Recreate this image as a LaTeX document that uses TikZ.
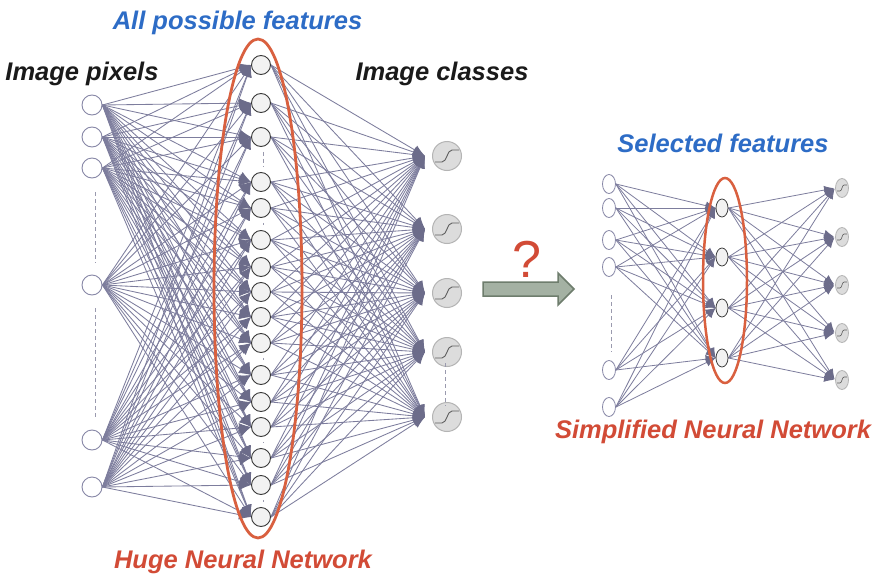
\documentclass[tikz,border=0pt]{standalone}
\usepackage{fontspec}
\setmainfont{Liberation Sans}
\usetikzlibrary{arrows.meta,calc,shapes.geometric}
\pgfdeclarelayer{back}
\pgfdeclarelayer{bg}
\pgfsetlayers{back,bg,main}
\definecolor{edgec}{HTML}{7D7D9D}
\definecolor{arrc}{HTML}{6C6C8A}
\definecolor{inc}{HTML}{8787A6}
\definecolor{hidfill}{HTML}{F2F2F2}
\definecolor{hidc}{HTML}{3A3A3A}
\definecolor{outfill}{HTML}{DCDCDC}
\definecolor{outc}{HTML}{B4B4B4}
\definecolor{sigc}{HTML}{5E5E5E}
\definecolor{redc}{HTML}{D9603F}
\definecolor{redt}{HTML}{D24B36}
\definecolor{bluet}{HTML}{2D6CC6}
\definecolor{blackt}{HTML}{1A1A1A}
\definecolor{dashc}{HTML}{9A9AAE}
\definecolor{barfill}{HTML}{A4B1A3}
\definecolor{barc}{HTML}{6E7D6D}
\tikzset{
  bin/.style={circle,draw=inc,fill=white,line width=0.9pt,minimum size=20pt,inner sep=0pt},
  bhid/.style={circle,draw=hidc,fill=hidfill,line width=0.9pt,minimum size=19pt,inner sep=0pt},
  bout/.style={circle,draw=outc,fill=outfill,line width=1pt,minimum size=29pt,inner sep=0pt},
  sin/.style={ellipse,draw=inc,fill=white,line width=0.8pt,minimum width=13pt,minimum height=19pt,inner sep=0pt},
  shid/.style={ellipse,draw=hidc,fill=hidfill,line width=0.8pt,minimum width=12pt,minimum height=18pt,inner sep=0pt},
  sout/.style={ellipse,draw=outc,fill=outfill,line width=0.8pt,minimum width=13pt,minimum height=19pt,inner sep=0pt},
  bedge/.style={draw=edgec,line width=0.85pt,-{Latex[length=12pt,width=10pt,color=arrc]}},
  sedge/.style={draw=edgec,line width=0.8pt,-{Latex[length=10pt,width=8.5pt,color=arrc]}},
  sig/.style={draw=sigc,line width=0.9pt},
  dsh/.style={draw=dashc,line width=0.8pt,dash pattern=on 4pt off 3pt},
  redell/.style={draw=redc,line width=2.8pt},
  lbl/.style={font=\fontsize{25.5}{30}\selectfont\bfseries\itshape,anchor=base,inner sep=0pt},
  barrow/.style={draw=barc,fill=barfill,line width=1.5pt,line join=miter}
}
\begin{document}
\begin{tikzpicture}[x=1pt,y=-1pt]
\begin{pgfonlayer}{back}
\fill[white] (0,0) rectangle (879,581);
\end{pgfonlayer}
\useasboundingbox (0,0) rectangle (879,581);

% ---------- big network ----------
\foreach \y [count=\i] in {105,137,168,285,440,487}
  \node[bin] (in\i) at (92,\y) {};
\foreach \y [count=\i] in {65,103,137,182,208,240,267,292,317,343,375,402,427,458,485,517}
  \node[bhid] (h\i) at (261,\y) {};
\foreach \y [count=\i] in {156,229,293,352,417} {
  \node[bout] (o\i) at (447,\y) {};
  \coordinate (ot\i) at (425,\y);
}

\begin{pgfonlayer}{bg}
\foreach \i in {1,...,6}
  \foreach \j in {1,...,16}
    \draw[bedge] (in\i.east) -- (h\j.west);
\foreach \i in {1,...,16}
  \foreach \j in {1,...,5}
    \draw[bedge] (h\i.east) -- (ot\j);
\end{pgfonlayer}

\foreach \j in {1,...,5}
  \draw[sig] ($(o\j.center)+(-12,6)$) -- ($(o\j.center)+(-5,6)$)
     .. controls ($(o\j.center)+(0,6)$) and ($(o\j.center)+(0,-6)$) ..
     ($(o\j.center)+(5,-6)$) -- ($(o\j.center)+(12,-6)$);

% dashed ellipsis marks
\draw[dsh] (95,192) -- (95,263);
\draw[dsh] (95,308) -- (95,417);
\foreach \a/\b in {3/4,5/6,10/11,13/14,15/16}
  \draw[dsh] ($(h\a.south)+(2,5)$) -- ($(h\b.north)+(2,-5)$);
\draw[dsh] ($(o4.south)+(-2,-4)$) -- ($(o5.north)+(-2,4)$);

\draw[redell] (258,288.5) ellipse [x radius=44pt, y radius=249.5pt];

% ---------- small network ----------
\foreach \y [count=\i] in {184,208,240,267,370,407}
  \node[sin] (si\i) at (609,\y) {};
\foreach \y [count=\i] in {208,257,308,358}
  \node[shid] (sh\i) at (722,\y) {};
\foreach \y [count=\i] in {188,237,285,333,380}
  \node[sout] (so\i) at (842,\y) {};

\begin{pgfonlayer}{bg}
\foreach \i in {1,...,6}
  \foreach \j in {1,...,4}
    \draw[sedge] (si\i.east) -- (sh\j.west);
\foreach \i in {1,...,4}
  \foreach \j in {1,...,5}
    \draw[sedge,shorten >=1pt] (sh\i.east) -- (so\j.west);
\end{pgfonlayer}

\foreach \j in {1,...,5}
  \draw[draw=sigc,line width=0.6pt] ($(so\j.center)+(-5,3)$) -- ($(so\j.center)+(-2,3)$)
     .. controls ($(so\j.center)+(0,3)$) and ($(so\j.center)+(0,-3)$) ..
     ($(so\j.center)+(2,-3)$) -- ($(so\j.center)+(5,-3)$);

\draw[dsh] (611,295) -- (611,352);
\draw[redell,line width=2.5pt] (725,280.5) ellipse [x radius=22pt, y radius=102.5pt];

% ---------- middle arrow ----------
\draw[barrow] (483,282) -- (558,282) -- (558,273) -- (574,289) -- (558,305) -- (558,296) -- (483,296) -- cycle;
\node[font=\fontsize{52}{60}\selectfont,text=redt,anchor=base,inner sep=0pt] (q) at (527,277) {?};

% ---------- labels ----------
\node[lbl,text=bluet] (tall) at (237.5,29) {All possible features};
\node[lbl,text=blackt] (tpix) at (82,80) {Image pixels};
\node[lbl,text=blackt] (tcls) at (442,80) {Image classes};
\node[lbl,text=redt] (thuge) at (243,568) {Huge Neural Network};
\node[lbl,text=bluet] (tsel) at (723,152) {Selected features};
\node[lbl,text=redt] (tsimp) at (713,438) {Simplified Neural Network};
\end{tikzpicture}
\end{document}
